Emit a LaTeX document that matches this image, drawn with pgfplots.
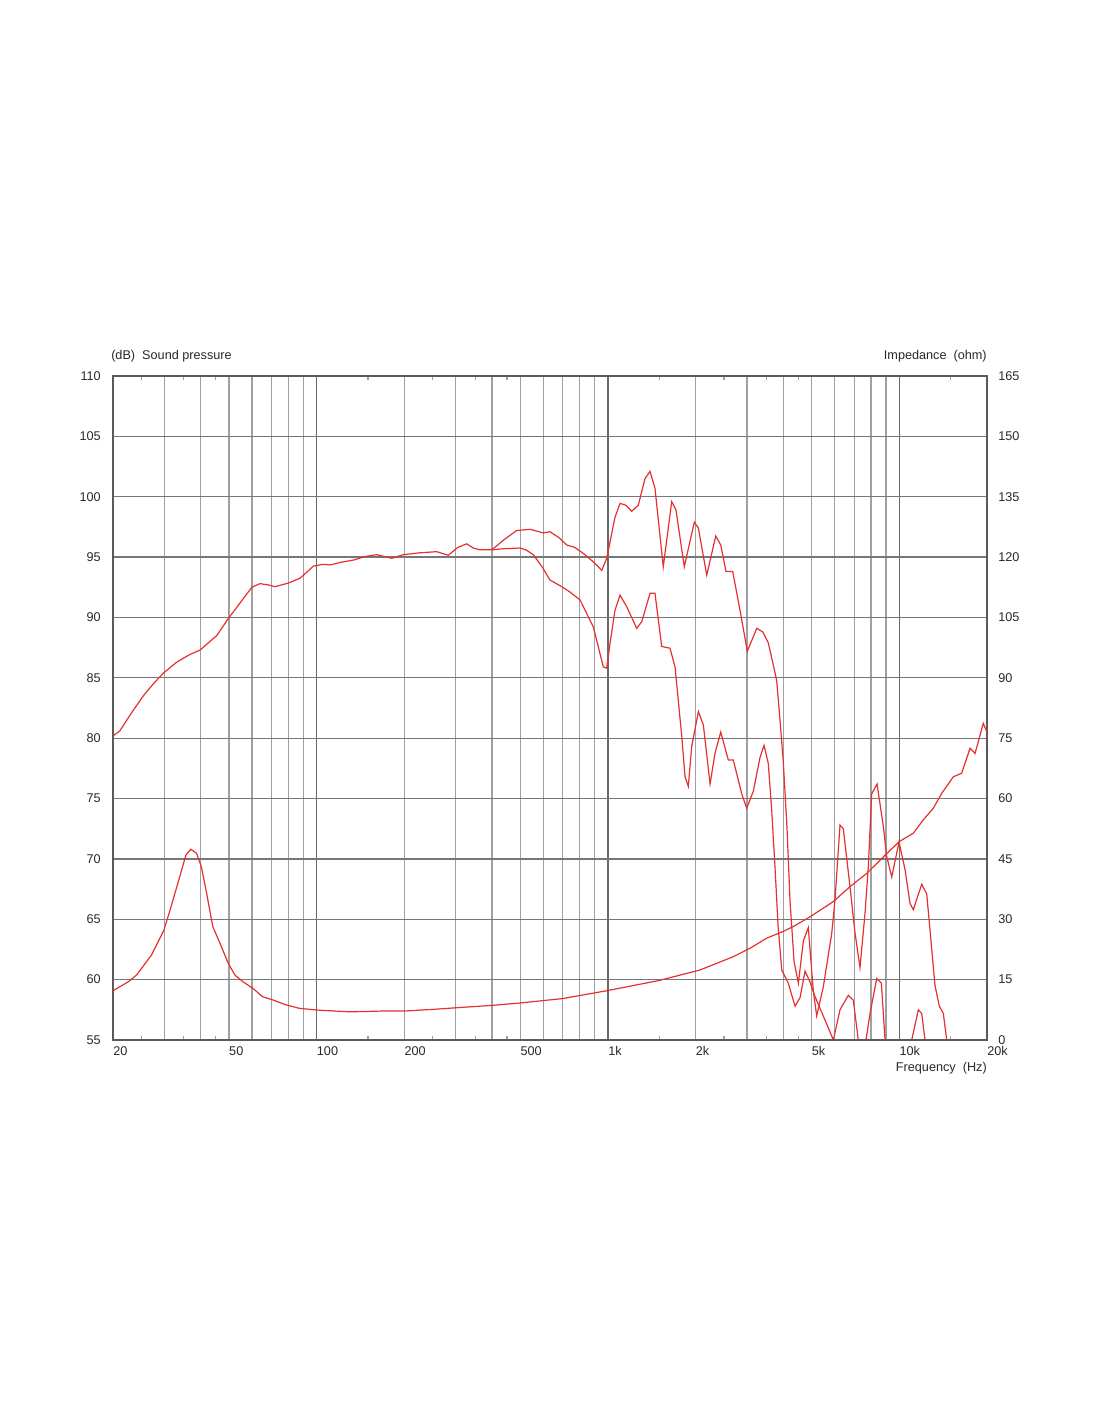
\documentclass[border=0pt]{standalone}
\usepackage{fontspec}
\setmainfont{Liberation Sans}
\usepackage{pgfplots}
\pgfplotsset{compat=1.18}
\definecolor{curve}{RGB}{228,48,48}
\definecolor{gridV}{RGB}{160,160,160}
\definecolor{gridD}{RGB}{105,105,105}
\definecolor{gridH}{RGB}{118,118,118}
\definecolor{frame}{RGB}{90,90,90}
\definecolor{txt}{RGB}{40,40,40}
\pgfplotsset{
  tick label style={font=\fontsize{9.5}{11}\selectfont, text=txt},
  /pgf/number format/assume math mode=true,
}
\begin{document}
\begin{tikzpicture}
\useasboundingbox (0,0) rectangle (825pt,1066.5pt);
\begin{axis}[
  at={(84.75pt,286.5pt)}, anchor=south west,
  scale only axis, width=655.5pt, height=498pt,
  xmode=log, xmin=20, xmax=20000, ymin=55, ymax=110,
  xtick={100,1000,10000}, xticklabels={100,1k,10k},
  extra x ticks={20,50,200,500,2000,5000,20000},
  extra x tick labels={20,50,200,500,2k,5k,20k},
  extra x tick style={grid=none},
  minor xtick={30,40,50,60,70,80,90,200,300,400,500,600,700,800,900,2000,3000,4000,5000,6000,7000,8000,9000},
  ytick={55,60,...,110},
  ytick pos=left, xtick pos=bottom,
  xmajorgrids, xminorgrids, ymajorgrids,
  major x grid style={gridD, line width=0.9pt},
  minor x grid style={gridV, line width=0.9pt},
  major y grid style={gridH, line width=0.9pt},
  major tick length=0pt, minor tick length=0pt,
  axis line style={frame, line width=0.9pt},
  xticklabel style={anchor=north west, inner sep=0pt, yshift=-4.5pt},
  yticklabel style={anchor=east, inner sep=0pt, xshift=-9pt},
  clip mode=individual,
]
\addplot[curve, line width=0.9pt] coordinates {
(20,80.2) (20.3,80.3) (21.1,80.6) (23,82) (25.4,83.5) (27.5,84.5) (29.8,85.4) (33.1,86.3) (36.5,86.9) (39.8,87.3)
(42.5,87.9) (45.4,88.5) (49.7,89.9) (54.6,91.2) (59.9,92.5) (63.9,92.8) (68,92.7) (72,92.55) (80,92.85) (87.7,93.25)
(93,93.8) (97.4,94.25) (105,94.4) (111.1,94.35) (120,94.55) (133.6,94.75) (147,95.05) (160.8,95.2) (181,94.9) (198.4,95.2)
(225,95.35) (258.3,95.45) (283.2,95.15) (305,95.8) (327.5,96.1) (345,95.75) (363.8,95.6) (399,95.6)
(443,96.5) (486,97.2) (540,97.3) (600,97.0) (632,97.1) (680,96.6) (722,96.0) (770,95.8) (823,95.3) (891,94.6) (952,93.9)
(990,94.9) (1057,98.3) (1100,99.45) (1150,99.3) (1207,98.8) (1271,99.3) (1340,101.5) (1394,102.1) (1450,100.7) (1548,94.2)
(1655,99.6) (1712,98.9) (1828,94.2) (1979,97.9) (2043,97.4) (2183,93.5) (2344,96.75) (2438,96.0) (2542,93.8) (2680,93.8)
(2839,90.6) (3008,87.2) (3241,89.1) (3400,88.8) (3551,87.9) (3794,84.8) (3895,81.5) (3999,78.0) (4118,72.5) (4216,66.5)
(4353,61.5) (4503,59.7) (4684,63.2) (4871,64.3) (5066,59.1) (5205,57.0) (5484,59.4) (5860,63.8) (6016,66.6) (6258,72.8)
(6424,72.5) (6772,67.7) (7044,63.9) (7329,61.0) (7626,65.5) (7827,69.3) (8040,75.4) (8387,76.2) (8813,72.7) (9053,70.2)
(9421,68.5) (9977,71.4) (10465,69.1) (10886,66.3) (11172,65.8) (11937,67.9) (12418,67.1) (13262,59.5) (13720,57.8)
(14160,57.2) (14546,55.0)
};
\addplot[curve, line width=0.9pt] coordinates {
(399,95.6) (443,95.7) (499,95.75) (523,95.6) (554,95.2) (594,94.2) (632,93.1) (694,92.55) (741,92.1) (802,91.45)
(891,89.2) (939,87.0) (964,85.9) (990,85.8) (1017,87.9) (1057,90.6) (1100,91.85) (1159,90.9) (1255,89.1) (1306,89.65)
(1394,92.0) (1450,92.0) (1529,87.6) (1633,87.45) (1699,85.9) (1791,80.2) (1839,76.8) (1887,76.0) (1938,79.3) (2043,82.2)
(2125,81.1) (2241,76.2) (2330,78.75) (2438,80.5) (2588,78.2) (2692,78.2) (2877,75.4) (2993,74.2) (3154,75.6) (3325,78.4)
(3434,79.4) (3551,77.9) (3648,74.0) (3745,69.3) (3835,64.5) (3949,60.8) (4159,59.7) (4386,57.8) (4563,58.5) (4747,60.7)
(4937,59.8) (5135,58.6) (5414,57.3) (5706,56.0) (5937,55.0) (6258,57.5) (6682,58.7) (6952,58.3) (7232,55.0) (7686,55.0)
(7935,57.2) (8365,60.1) (8680,59.7) (8932,55.0) (11031,55.0) (11621,57.5) (11937,57.2) (12250,55.0)
};
\node[anchor=west, inner sep=0pt, text=txt, font=\fontsize{9.5}{11}\selectfont] at (rel axis cs:0,1) [yshift=15pt, xshift=-1.5pt] {(dB)\ \ Sound pressure};
\node[anchor=east, inner sep=0pt, text=txt, font=\fontsize{9.5}{11}\selectfont] at (rel axis cs:1,0) [yshift=-21pt] {Frequency\ \ (Hz)};
\end{axis}
\begin{axis}[
  at={(84.75pt,286.5pt)}, anchor=south west,
  scale only axis, width=655.5pt, height=498pt,
  xmode=log, xmin=20, xmax=20000, ymin=0, ymax=165,
  xtick={25,35,45,150,250,350,450,1500,2500,3500,4500,15000},
  xticklabels={},
  xtick pos=both, tick align=inside,
  major tick length=3pt,
  xtick style={gridV, line width=0.9pt},
  ytick={0,15,...,165},
  ytick pos=right, yticklabel pos=right,
  ytick style={draw=none},
  axis line style={frame, line width=0.9pt},
  yticklabel style={anchor=west, inner sep=0pt, xshift=8.25pt},
  clip mode=individual,
]
\addplot[curve, line width=0.9pt] coordinates {
(20,12.25) (22.6,14.5) (24.1,16.15) (27.1,21.1) (29.9,27.3) (31.4,32.3) (33.9,40.6) (35.6,46.0) (37.0,47.4) (38.7,46.4)
(40.2,43.1) (41.9,36.5) (44.0,28.2) (46.6,24.0) (49.7,19.1) (52.4,16.15) (55.8,14.5) (60.4,12.85) (65.2,10.76) (70.8,9.94)
(78.7,8.7) (87.3,7.87) (99.9,7.45) (115,7.2) (130,7.0) (150,7.1) (169,7.2) (200,7.2) (250,7.6) (300,8.0) (400,8.6) (500,9.2)
(700,10.3) (1000,12.3) (1500,14.8) (2070,17.4) (2692,20.7) (3074,22.8) (3507,25.3) (4000,27.0) (4327,28.2) (4937,30.6)
(5937,34.4) (6772,38.1) (7729,41.4) (8813,45.5) (10000,49.3) (11172,51.4) (12087,54.7) (13083,57.6) (13981,61.3)
(15327,65.4) (16376,66.3) (17491,72.5) (18194,71.2) (18664,74.1) (19418,78.7) (19955,76.6)
};
\node[anchor=east, inner sep=0pt, text=txt, font=\fontsize{9.5}{11}\selectfont] at (rel axis cs:1,1) [yshift=15pt] {Impedance\ \ (ohm)};
\end{axis}
\end{tikzpicture}
\end{document}
